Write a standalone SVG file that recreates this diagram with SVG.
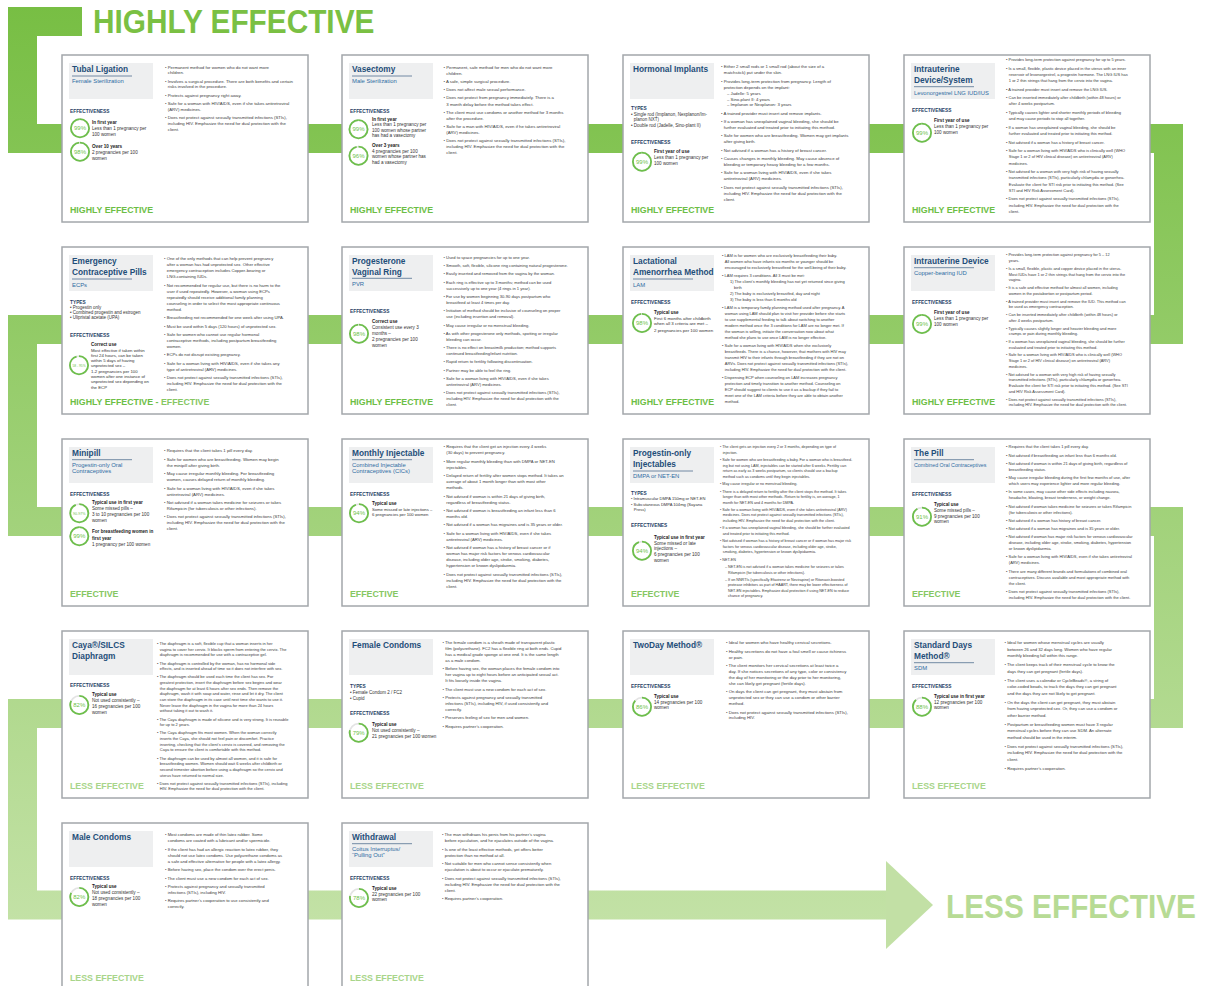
<svg xmlns="http://www.w3.org/2000/svg" width="1206" height="986" viewBox="0 0 1206 986">
<defs>
<linearGradient id="gr" gradientUnits="userSpaceOnUse" x1="0" y1="0" x2="0" y2="960">
<stop offset="0" stop-color="#77BE43"/>
<stop offset="1" stop-color="#C6E3AA"/>
</linearGradient>
<style>
text{font-family:"Liberation Sans",Arial,sans-serif}
.cb{fill:#fff;stroke:#A3A7AB;stroke-width:1.5}
.tb{fill:#EEEFF0}
.t{font-weight:bold;font-size:8.3px;fill:#1F4E79}
.s{font-size:5.9px;fill:#2F6CA3}
.ul{stroke:#51708F;stroke-width:0.8}
.l{font-weight:bold;font-size:4.8px;fill:#1F3F66}
.ty{font-size:4.5px;fill:#333}
.h{font-weight:bold;font-size:4.6px;fill:#222}
.e{font-size:4.6px;fill:#333}
.b{font-size:4.3px;fill:#3A3A3A}
.rg{fill:none;stroke:#E4E4E4;stroke-width:1.8}
.rf{fill:none;stroke:#6DBF4B;stroke-width:1.8}
.p{font-size:6px;fill:#6DBF4B;text-anchor:middle}
.f{font-weight:bold;font-size:8.8px}
.f1{fill:#6CBE45}
.f2{fill:#86C762}
.f3{fill:#A8D58A}
</style>
</defs>
<rect width="1206" height="986" fill="#fff"/>
<g id="connectors">
<path d="M82 21.5H22.5V138.5H1168.5V329.5H22.5V521.5H1168.5V713.5H22.5V905H886" fill="none" stroke="url(#gr)" stroke-width="29"/>
<polygon points="886,861 933,905 886,949" fill="#C2E0A5"/>
</g>
<g id="header-highly">
<text transform="translate(93,33.3) scale(1,1.094)" font-size="29.8" font-weight="bold" fill="#7AC043">HIGHLY EFFECTIVE</text>
</g>
<g id="footer-less">
<text transform="translate(946,918.3) scale(1,1.117)" font-size="29.8" font-weight="bold" fill="#B7DB95">LESS EFFECTIVE</text>
</g>

<g id="card-tubal-ligation" transform="translate(62,55)">
<rect class="cb" width="246" height="167"/>
<rect class="tb" x="7" y="8" width="84" height="36"/>
<text class="t" x="10" y="17">Tubal Ligation</text>
<line class="ul" x1="10" y1="21" x2="70" y2="21"/>
<text class="s" x="10" y="28">Female Sterilization</text>
<text class="l" x="8" y="57.7">EFFECTIVENESS</text>
<circle class="rg" cx="18" cy="73.3" r="9.1"/>
<circle class="rf" cx="18" cy="73.3" r="9.1" stroke-dasharray="56.6 60" transform="rotate(-90 18 73.3)"/>
<text class="p" x="18" y="75.4">99%</text>
<text x="30"><tspan class="h" x="30" y="69.3">In first year</tspan><tspan class="e" x="30" y="75.1">Less than 1 pregnancy per</tspan><tspan class="e" x="30" y="80.7">100 women</tspan></text>
<circle class="rg" cx="18" cy="96.7" r="9.1"/>
<circle class="rf" cx="18" cy="96.7" r="9.1" stroke-dasharray="56 60" transform="rotate(-90 18 96.7)"/>
<text class="p" x="18" y="98.8">98%</text>
<text x="30"><tspan class="h" x="30" y="93.3">Over 10 years</tspan><tspan class="e" x="30" y="99.1">2 pregnancies per 100</tspan><tspan class="e" x="30" y="104.7">women</tspan></text>
<text class="b"><tspan x="103" y="13.5">• Permanent method for women who do not want more</tspan><tspan x="105.8" y="19.3">children.</tspan><tspan x="103" y="27.6">• Involves a surgical procedure. There are both benefits and certain</tspan><tspan x="105.8" y="33.4">risks involved in the procedure.</tspan><tspan x="103" y="41.7">• Protects against pregnancy right away.</tspan><tspan x="103" y="50">• Safe for a woman with HIV/AIDS, even if she takes antiretroviral</tspan><tspan x="105.8" y="55.8">(ARV) medicines.</tspan><tspan x="103" y="64.1">• Does not protect against sexually transmitted infections (STIs),</tspan><tspan x="105.8" y="69.9">including HIV. Emphasize the need for dual protection with the</tspan><tspan x="105.8" y="75.7">client.</tspan></text>
<text class="f f1" x="8" y="158.3">HIGHLY EFFECTIVE</text>
</g>

<g id="card-vasectomy" transform="translate(342,55)">
<rect class="cb" width="246" height="167"/>
<rect class="tb" x="7" y="8" width="84" height="36"/>
<text class="t" x="10" y="17">Vasectomy</text>
<line class="ul" x1="10" y1="21" x2="70" y2="21"/>
<text class="s" x="10" y="28">Male Sterilization</text>
<text class="l" x="8" y="57.7">EFFECTIVENESS</text>
<circle class="rg" cx="16.5" cy="74.3" r="9.1"/>
<circle class="rf" cx="16.5" cy="74.3" r="9.1" stroke-dasharray="56.6 60" transform="rotate(-90 16.5 74.3)"/>
<text class="p" x="16.5" y="76.4">99%</text>
<text x="30"><tspan class="h" x="30" y="65.7">In first year</tspan><tspan class="e" x="30" y="71.2">Less than 1 pregnancy per</tspan><tspan class="e" x="30" y="76.8">100 women whose partner</tspan><tspan class="e" x="30" y="82.4">has had a vasectomy</tspan></text>
<circle class="rg" cx="16.5" cy="100.7" r="9.1"/>
<circle class="rf" cx="16.5" cy="100.7" r="9.1" stroke-dasharray="54.9 60" transform="rotate(-90 16.5 100.7)"/>
<text class="p" x="16.5" y="102.8">96%</text>
<text x="30"><tspan class="h" x="30" y="91.5">Over 3 years</tspan><tspan class="e" x="30" y="97.5">4 pregnancies per 100</tspan><tspan class="e" x="30" y="103.2">women whose partner has</tspan><tspan class="e" x="30" y="108.9">had a vasectomy</tspan></text>
<text class="b"><tspan x="101.5" y="14.3">• Permanent, safe method for men who do not want more</tspan><tspan x="104.3" y="20.4">children.</tspan><tspan x="101.5" y="28.4">• A safe, simple surgical procedure.</tspan><tspan x="101.5" y="36.4">• Does not affect male sexual performance.</tspan><tspan x="101.5" y="44.4">• Does not protect from pregnancy immediately. There is a</tspan><tspan x="104.3" y="50.5">3 month delay before the method takes effect.</tspan><tspan x="101.5" y="58.5">• The client must use condoms or another method for 3 months</tspan><tspan x="104.3" y="64.6">after the procedure.</tspan><tspan x="101.5" y="72.6">• Safe for a man with HIV/AIDS, even if he takes antiretroviral</tspan><tspan x="104.3" y="78.7">(ARV) medicines.</tspan><tspan x="101.5" y="86.7">• Does not protect against sexually transmitted infections (STIs),</tspan><tspan x="104.3" y="92.8">including HIV. Emphasize the need for dual protection with the</tspan><tspan x="104.3" y="98.9">client.</tspan></text>
<text class="f f1" x="8" y="158.3">HIGHLY EFFECTIVE</text>
</g>

<g id="card-hormonal-implants" transform="translate(623,55)">
<rect class="cb" width="246" height="167"/>
<rect class="tb" x="7" y="8" width="84" height="36"/>
<text class="t" x="10" y="17">Hormonal Implants</text>
<text class="l" x="8" y="55">TYPES</text>
<text class="ty"><tspan x="8" y="60.7">• Single rod (Implanon, Nexplanon/Im-</tspan><tspan x="10.8" y="66">planon NXT)</tspan><tspan x="8" y="71.7">• Double rod (Jadelle, Sino-plant II)</tspan></text>
<text class="l" x="8" y="89.3">EFFECTIVENESS</text>
<circle class="rg" cx="19" cy="106.7" r="9.1"/>
<circle class="rf" cx="19" cy="106.7" r="9.1" stroke-dasharray="56.6 60" transform="rotate(-90 19 106.7)"/>
<text class="p" x="19" y="108.8">99%</text>
<text x="31"><tspan class="h" x="31" y="98.3">First year of use</tspan><tspan class="e" x="31" y="104">Less than 1 pregnancy per</tspan><tspan class="e" x="31" y="109.8">100 women</tspan></text>
<text class="b"><tspan x="98" y="13.3">• Either 2 small rods or 1 small rod (about the size of a</tspan><tspan x="100.8" y="19.3">matchstick) put under the skin.</tspan><tspan x="98" y="27.6">• Provides long-term protection from pregnancy. Length of</tspan><tspan x="100.8" y="33.6">protection depends on the implant:</tspan><tspan x="104" y="39.5">– Jadelle: 5 years</tspan><tspan x="104" y="45.5">– Sino-plant II: 4 years</tspan><tspan x="104" y="51.4">– Implanon or Nexplanon: 3 years</tspan><tspan x="98" y="59.8">• A trained provider must insert and remove implants.</tspan><tspan x="98" y="68.1">• If a woman has unexplained vaginal bleeding, she should be</tspan><tspan x="100.8" y="74.1">further evaluated and treated prior to initiating this method.</tspan><tspan x="98" y="82.4">• Safe for women who are breastfeeding. Women may get implants</tspan><tspan x="100.8" y="88.4">after giving birth.</tspan><tspan x="98" y="96.7">• Not advised if a woman has a history of breast cancer.</tspan><tspan x="98" y="105.1">• Causes changes in monthly bleeding. May cause absence of</tspan><tspan x="100.8" y="111">bleeding or temporary heavy bleeding for a few months.</tspan><tspan x="98" y="119.4">• Safe for a woman living with HIV/AIDS, even if she takes</tspan><tspan x="100.8" y="125.3">antiretroviral (ARV) medicines.</tspan><tspan x="98" y="133.7">• Does not protect against sexually transmitted infections (STIs),</tspan><tspan x="100.8" y="139.6">including HIV. Emphasize the need for dual protection with the</tspan><tspan x="100.8" y="145.6">client.</tspan></text>
<text class="f f1" x="8" y="158.3">HIGHLY EFFECTIVE</text>
</g>

<g id="card-iud-lng" transform="translate(904,55)">
<rect class="cb" width="246" height="167"/>
<rect class="tb" x="7" y="8" width="84" height="36"/>
<text class="t"><tspan x="10" y="17.3">Intrauterine</tspan><tspan x="10" y="27.7">Device/System</tspan></text>
<line class="ul" x1="10" y1="31.7" x2="70" y2="31.7"/>
<text class="s" x="10" y="40" style="font-size:5.8px">Levonorgestrel LNG IUD/IUS</text>
<text class="l" x="8" y="56.7">EFFECTIVENESS</text>
<circle class="rg" cx="18" cy="77.7" r="9.1"/>
<circle class="rf" cx="18" cy="77.7" r="9.1" stroke-dasharray="56.6 60" transform="rotate(-90 18 77.7)"/>
<text class="p" x="18" y="79.8">99%</text>
<text x="30"><tspan class="h" x="30" y="67.3">First year of use</tspan><tspan class="e" x="30" y="73.3">Less than 1 pregnancy per</tspan><tspan class="e" x="30" y="79">100 women</tspan></text>
<text class="b" style="font-size:4px"><tspan x="102" y="6">• Provides long-term protection against pregnancy for up to 5 years.</tspan><tspan x="102" y="14.6">• Is a small, flexible, plastic device placed in the uterus with an inner</tspan><tspan x="104.8" y="20.8">reservoir of levonorgestrel, a progestin hormone. The LNG IUS has</tspan><tspan x="104.8" y="27">1 or 2 thin strings that hang from the cervix into the vagina.</tspan><tspan x="102" y="35.6">• A trained provider must insert and remove the LNG IUS.</tspan><tspan x="102" y="44.2">• Can be inserted immediately after childbirth (within 48 hours) or</tspan><tspan x="104.8" y="50.4">after 4 weeks postpartum.</tspan><tspan x="102" y="59">• Typically causes lighter and shorter monthly periods of bleeding</tspan><tspan x="104.8" y="65.2">and may cause periods to stop all together.</tspan><tspan x="102" y="73.8">• If a woman has unexplained vaginal bleeding, she should be</tspan><tspan x="104.8" y="80">further evaluated and treated prior to initiating this method.</tspan><tspan x="102" y="88.6">• Not advised if a woman has a history of breast cancer.</tspan><tspan x="102" y="97.2">• Safe for a woman living with HIV/AIDS who is clinically well (WHO</tspan><tspan x="104.8" y="103.4">Stage 1 or 2 of HIV clinical disease) on antiretroviral (ARV)</tspan><tspan x="104.8" y="109.6">medicines.</tspan><tspan x="102" y="118.2">• Not advised for a woman with very high risk of having sexually</tspan><tspan x="104.8" y="124.4">transmitted infections (STIs), particularly chlamydia or gonorrhea.</tspan><tspan x="104.8" y="130.6">Evaluate the client for STI risk prior to initiating this method. (See</tspan><tspan x="104.8" y="136.8">STI and HIV Risk Assessment Card).</tspan><tspan x="102" y="145.4">• Does not protect against sexually transmitted infections (STIs),</tspan><tspan x="104.8" y="151.6">including HIV. Emphasize the need for dual protection with the</tspan><tspan x="104.8" y="157.8">client.</tspan></text>
<text class="f f1" x="8" y="158.3">HIGHLY EFFECTIVE</text>
</g>

<g id="card-ecp" transform="translate(62,247)">
<rect class="cb" width="246" height="167"/>
<rect class="tb" x="7" y="8" width="84" height="36"/>
<text class="t"><tspan x="10" y="17.3">Emergency</tspan><tspan x="10" y="27.7">Contraceptive Pills</tspan></text>
<line class="ul" x1="10" y1="32" x2="70" y2="32"/>
<text class="s" x="10" y="40">ECPs</text>
<text class="l" x="8" y="56.7">TYPES</text>
<text class="ty"><tspan x="8" y="61.9">• Progestin only</tspan><tspan x="8" y="67.1">• Combined progestin and estrogen</tspan><tspan x="8" y="72.3">• Ulipristal acetate (UPA)</tspan></text>
<text class="l" x="8" y="90">EFFECTIVENESS</text>
<circle class="rg" cx="17" cy="118.3" r="9.1"/>
<circle class="rf" cx="17" cy="118.3" r="9.1" stroke-dasharray="54.3 60" transform="rotate(-90 17 118.3)"/>
<text class="p" x="17" y="119.5" style="font-size:3.3px">58 - 95%</text>
<text x="29"><tspan class="h" x="29" y="99">Correct use</tspan><tspan class="e" x="29" y="104.5" style="font-size:4.3px">Most effective if taken within</tspan><tspan class="e" x="29" y="109.8" style="font-size:4.3px">first 24 hours, can be taken</tspan><tspan class="e" x="29" y="115.1" style="font-size:4.3px">within 5 days of having</tspan><tspan class="e" x="29" y="120.4" style="font-size:4.3px">unprotected sex –</tspan><tspan class="e" x="29" y="125.7" style="font-size:4.3px">1-2 pregnancies per 100</tspan><tspan class="e" x="29" y="131" style="font-size:4.3px">women after one instance of</tspan><tspan class="e" x="29" y="136.3" style="font-size:4.3px">unprotected sex depending on</tspan><tspan class="e" x="29" y="141.6" style="font-size:4.3px">the ECP</tspan></text>
<text class="b" style="font-size:4.2px"><tspan x="102" y="13.3">• One of the only methods that can help prevent pregnancy</tspan><tspan x="104.8" y="19.3">after a woman has had unprotected sex. Other effective</tspan><tspan x="104.8" y="25.3">emergency contraception includes Copper-bearing or</tspan><tspan x="104.8" y="31.3">LNG-containing IUDs.</tspan><tspan x="102" y="39.7">• Not recommended for regular use, but there is no harm to the</tspan><tspan x="104.8" y="45.7">user if used repeatedly. However, a woman using ECPs</tspan><tspan x="104.8" y="51.7">repeatedly should receive additional family planning</tspan><tspan x="104.8" y="57.7">counseling in order to select the most appropriate continuous</tspan><tspan x="104.8" y="63.7">method.</tspan><tspan x="102" y="72.1">• Breastfeeding not recommended for one week after using UPA.</tspan><tspan x="102" y="80.5">• Must be used within 5 days (120 hours) of unprotected sex.</tspan><tspan x="102" y="88.9">• Safe for women who cannot use regular hormonal</tspan><tspan x="104.8" y="94.9">contraceptive methods, including postpartum breastfeeding</tspan><tspan x="104.8" y="100.9">women.</tspan><tspan x="102" y="109.3">• ECPs do not disrupt existing pregnancy.</tspan><tspan x="102" y="117.7">• Safe for a woman living with HIV/AIDS, even if she takes any</tspan><tspan x="104.8" y="123.7">type of antiretroviral (ARV) medicines.</tspan><tspan x="102" y="132.1">• Does not protect against sexually transmitted infections (STIs),</tspan><tspan x="104.8" y="138.1">including HIV. Emphasize the need for dual protection with the</tspan><tspan x="104.8" y="144.1">client.</tspan></text>
<text class="f f1" x="8" y="158.3">HIGHLY EFFECTIVE - <tspan class="f2">EFFECTIVE</tspan></text>
</g>

<g id="card-vaginal-ring" transform="translate(342,247)">
<rect class="cb" width="246" height="167"/>
<rect class="tb" x="7" y="8" width="84" height="36"/>
<text class="t"><tspan x="10" y="17.3">Progesterone</tspan><tspan x="10" y="27.7">Vaginal Ring</tspan></text>
<line class="ul" x1="10" y1="31.3" x2="70" y2="31.3"/>
<text class="s" x="10" y="39">PVR</text>
<text class="l" x="8" y="65.7">EFFECTIVENESS</text>
<circle class="rg" cx="17" cy="86.7" r="9.1"/>
<circle class="rf" cx="17" cy="86.7" r="9.1" stroke-dasharray="56 60" transform="rotate(-90 17 86.7)"/>
<text class="p" x="17" y="88.8">98%</text>
<text x="30"><tspan class="h" x="30" y="76">Correct use</tspan><tspan class="e" x="30" y="81.7">Consistent use every 3</tspan><tspan class="e" x="30" y="87.5">months –</tspan><tspan class="e" x="30" y="93.8">2 pregnancies per 100</tspan><tspan class="e" x="30" y="99.8">women</tspan></text>
<text class="b" style="font-size:4.1px"><tspan x="101.5" y="11.7">• Used to space pregnancies for up to one year.</tspan><tspan x="101.5" y="20">• Smooth, soft, flexible, silicone ring containing natural progesterone.</tspan><tspan x="101.5" y="28.4">• Easily inserted and removed from the vagina by the woman.</tspan><tspan x="101.5" y="36.7">• Each ring is effective up to 3 months; method can be used</tspan><tspan x="104.3" y="42.7">successively up to one year (4 rings in 1 year).</tspan><tspan x="101.5" y="51">• For use by women beginning 30-90 days postpartum who</tspan><tspan x="104.3" y="56.9">breastfeed at least 4 times per day.</tspan><tspan x="101.5" y="65.3">• Initiation of method should be inclusive of counseling on proper</tspan><tspan x="104.3" y="71.2">use (including insertion and removal).</tspan><tspan x="101.5" y="79.5">• May cause irregular or no menstrual bleeding.</tspan><tspan x="101.5" y="87.9">• As with other progesterone only methods, spotting or irregular</tspan><tspan x="104.3" y="93.8">bleeding can occur.</tspan><tspan x="101.5" y="102.2">• There is no effect on breastmilk production; method supports</tspan><tspan x="104.3" y="108.1">continued breastfeeding/infant nutrition.</tspan><tspan x="101.5" y="116.4">• Rapid return to fertility following discontinuation.</tspan><tspan x="101.5" y="124.8">• Partner may be able to feel the ring.</tspan><tspan x="101.5" y="133.1">• Safe for a woman living with HIV/AIDS, even if she takes</tspan><tspan x="104.3" y="139">antiretroviral (ARV) medicines.</tspan><tspan x="101.5" y="147.4">• Does not protect against sexually transmitted infections (STIs),</tspan><tspan x="104.3" y="153.3">including HIV. Emphasize the need for dual protection with the</tspan><tspan x="104.3" y="159.3">client.</tspan></text>
<text class="f f1" x="8" y="158.3">HIGHLY EFFECTIVE</text>
</g>

<g id="card-lam" transform="translate(623,247)">
<rect class="cb" width="246" height="167"/>
<rect class="tb" x="7" y="8" width="84" height="36"/>
<text class="t"><tspan x="10" y="17.3">Lactational</tspan><tspan x="10" y="27.7">Amenorrhea Method</tspan></text>
<line class="ul" x1="10" y1="32" x2="70" y2="32"/>
<text class="s" x="10" y="40">LAM</text>
<text class="l" x="8" y="56.7">EFFECTIVENESS</text>
<circle class="rg" cx="19" cy="76" r="9.1"/>
<circle class="rf" cx="19" cy="76" r="9.1" stroke-dasharray="56 60" transform="rotate(-90 19 76)"/>
<text class="p" x="19" y="78.1">98%</text>
<text x="31"><tspan class="h" x="31" y="66.7">Typical use</tspan><tspan class="e" x="31" y="72.5" style="font-size:4.4px">First 6 months after childbirth</tspan><tspan class="e" x="31" y="78.2" style="font-size:4.4px">when all 3 criteria are met –</tspan><tspan class="e" x="31" y="84.5" style="font-size:4.4px">2 pregnancies per 100 women</tspan></text>
<text class="b" style="font-size:4px"><tspan x="99" y="10">• LAM is for women who are exclusively breastfeeding their baby.</tspan><tspan x="101.8" y="16">All women who have infants six months or younger should be</tspan><tspan x="101.8" y="22">encouraged to exclusively breastfeed for the well-being of their baby.</tspan><tspan x="99" y="30">• LAM requires 3 conditions. All 3 must be met:</tspan><tspan x="107" y="36">1) The client’s monthly bleeding has not yet returned since giving</tspan><tspan x="111" y="42">birth</tspan><tspan x="107" y="48">2) The baby is exclusively breastfed, day and night</tspan><tspan x="107" y="54">3) The baby is less than 6 months old</tspan><tspan x="99" y="62">• LAM is a temporary family planning method used after pregnancy. A</tspan><tspan x="101.8" y="68">woman using LAM should plan to visit her provider before she starts</tspan><tspan x="101.8" y="74">to use supplemental feeding to talk about switching to another</tspan><tspan x="101.8" y="80">modern method once the 3 conditions for LAM are no longer met. If</tspan><tspan x="101.8" y="86">the woman is willing, initiate the conversation now about what</tspan><tspan x="101.8" y="92">method she plans to use once LAM is no longer effective.</tspan><tspan x="99" y="100">• Safe for a woman living with HIV/AIDS when she exclusively</tspan><tspan x="101.8" y="106">breastfeeds. There is a chance, however, that mothers with HIV may</tspan><tspan x="101.8" y="112">transmit HIV to their infants through breastfeeding if they are not on</tspan><tspan x="101.8" y="118">ARVs. Does not protect against sexually transmitted infections (STIs),</tspan><tspan x="101.8" y="124">including HIV. Emphasize the need for dual protection with the client.</tspan><tspan x="99" y="132">• Dispensing ECP when counseling on LAM increases pregnancy</tspan><tspan x="101.8" y="138">protection and timely transition to another method. Counseling on</tspan><tspan x="101.8" y="144">ECP should suggest to clients to use it as a backup if they fail to</tspan><tspan x="101.8" y="150">meet one of the LAM criteria before they are able to obtain another</tspan><tspan x="101.8" y="156">method.</tspan></text>
<text class="f f1" x="8" y="158.3">HIGHLY EFFECTIVE</text>
</g>

<g id="card-iud-copper" transform="translate(904,247)">
<rect class="cb" width="246" height="167"/>
<rect class="tb" x="7" y="8" width="84" height="36"/>
<text class="t" x="10" y="17.3">Intrauterine Device</text>
<line class="ul" x1="10" y1="20.7" x2="70" y2="20.7"/>
<text class="s" x="10" y="27.7">Copper-bearing IUD</text>
<text class="l" x="8" y="56.7">EFFECTIVENESS</text>
<circle class="rg" cx="18" cy="77" r="9.1"/>
<circle class="rf" cx="18" cy="77" r="9.1" stroke-dasharray="56.6 60" transform="rotate(-90 18 77)"/>
<text class="p" x="18" y="79.1">99%</text>
<text x="30"><tspan class="h" x="30" y="67.3">First year of use</tspan><tspan class="e" x="30" y="73.3">Less than 1 pregnancy per</tspan><tspan class="e" x="30" y="79.3">100 women</tspan></text>
<text class="b" style="font-size:3.9px"><tspan x="102" y="9.3">• Provides long-term protection against pregnancy for 5 – 12</tspan><tspan x="104.8" y="15">years.</tspan><tspan x="102" y="22.8">• Is a small, flexible, plastic and copper device placed in the uterus.</tspan><tspan x="104.8" y="28.5">Most IUDs have 1 or 2 thin strings that hang from the cervix into the</tspan><tspan x="104.8" y="34.3">vagina.</tspan><tspan x="102" y="42">• It is a safe and effective method for almost all women, including</tspan><tspan x="104.8" y="47.8">women in the postabortion or postpartum period.</tspan><tspan x="102" y="55.5">• A trained provider must insert and remove the IUD. This method can</tspan><tspan x="104.8" y="61.2">be used as emergency contraception.</tspan><tspan x="102" y="69">• Can be inserted immediately after childbirth (within 48 hours) or</tspan><tspan x="104.8" y="74.7">after 4 weeks postpartum.</tspan><tspan x="102" y="82.5">• Typically causes slightly longer and heavier bleeding and more</tspan><tspan x="104.8" y="88.2">cramps or pain during monthly bleeding.</tspan><tspan x="102" y="96">• If a woman has unexplained vaginal bleeding, she should be further</tspan><tspan x="104.8" y="101.7">evaluated and treated prior to initiating this method.</tspan><tspan x="102" y="109.4">• Safe for a woman living with HIV/AIDS who is clinically well (WHO</tspan><tspan x="104.8" y="115.2">Stage 1 or 2 of HIV clinical disease) on antiretroviral (ARV)</tspan><tspan x="104.8" y="120.9">medicines.</tspan><tspan x="102" y="128.7">• Not advised for a woman with very high risk of having sexually</tspan><tspan x="104.8" y="134.4">transmitted infections (STIs), particularly chlamydia or gonorrhea.</tspan><tspan x="104.8" y="140.1">Evaluate the client for STI risk prior to initiating this method. (See STI</tspan><tspan x="104.8" y="145.9">and HIV Risk Assessment Card).</tspan><tspan x="102" y="153.6">• Does not protect against sexually transmitted infections (STIs),</tspan><tspan x="104.8" y="159.4">including HIV. Emphasize the need for dual protection with the client.</tspan></text>
<text class="f f1" x="8" y="158.3">HIGHLY EFFECTIVE</text>
</g>

<g id="card-minipill" transform="translate(62,439)">
<rect class="cb" width="246" height="167"/>
<rect class="tb" x="7" y="8" width="84" height="36"/>
<text class="t" x="10" y="17.3">Minipill</text>
<line class="ul" x1="10" y1="20.7" x2="70" y2="20.7"/>
<text class="s"><tspan x="10" y="27.7">Progestin-only Oral</tspan><tspan x="10" y="34.3">Contraceptives</tspan></text>
<text class="l" x="8" y="56.7">EFFECTIVENESS</text>
<circle class="rg" cx="17.3" cy="74.3" r="9.1"/>
<circle class="rf" cx="17.3" cy="74.3" r="9.1" stroke-dasharray="53.2 60" transform="rotate(-90 17.3 74.3)"/>
<text class="p" x="17.3" y="75.6" style="font-size:3.6px">90-97%</text>
<text x="30"><tspan class="h" x="30" y="65.3">Typical use in first year</tspan><tspan class="e" x="30" y="71">Some missed pills –</tspan><tspan class="e" x="30" y="77.2">3 to 10 pregnancies per 100</tspan><tspan class="e" x="30" y="83.3">women</tspan></text>
<circle class="rg" cx="17.3" cy="97.3" r="9.1"/>
<circle class="rf" cx="17.3" cy="97.3" r="9.1" stroke-dasharray="56.6 60" transform="rotate(-90 17.3 97.3)"/>
<text class="p" x="17.3" y="99.4">99%</text>
<text x="30"><tspan class="h" x="30" y="94.3">For breastfeeding women in</tspan><tspan class="h" x="30" y="100.6">first year</tspan><tspan class="e" x="30" y="107">1 pregnancy per 100 women</tspan></text>
<text class="b"><tspan x="102" y="13.3">• Requires that the client takes 1 pill every day.</tspan><tspan x="102" y="21.7">• Safe for women who are breastfeeding. Women may begin</tspan><tspan x="104.8" y="27.7">the minipill after giving birth.</tspan><tspan x="102" y="36.1">• May cause irregular monthly bleeding. For breastfeeding</tspan><tspan x="104.8" y="42.1">women, causes delayed return of monthly bleeding.</tspan><tspan x="102" y="50.5">• Safe for a woman living with HIV/AIDS, even if she takes</tspan><tspan x="104.8" y="56.5">antiretroviral (ARV) medicines.</tspan><tspan x="102" y="64.9">• Not advised if a woman takes medicine for seizures or takes</tspan><tspan x="104.8" y="70.9">Rifampicin (for tuberculosis or other infections).</tspan><tspan x="102" y="79.3">• Does not protect against sexually transmitted infections (STIs),</tspan><tspan x="104.8" y="85.3">including HIV. Emphasize the need for dual protection with the</tspan><tspan x="104.8" y="91.3">client.</tspan></text>
<text class="f f2" x="8" y="158.3">EFFECTIVE</text>
</g>

<g id="card-monthly-injectable" transform="translate(342,439)">
<rect class="cb" width="246" height="167"/>
<rect class="tb" x="7" y="8" width="84" height="36"/>
<text class="t" x="10" y="17.3">Monthly Injectable</text>
<line class="ul" x1="10" y1="20.7" x2="70" y2="20.7"/>
<text class="s"><tspan x="10" y="27.7">Combined Injectable</tspan><tspan x="10" y="34.3">Contraceptives (CICs)</tspan></text>
<text class="l" x="8" y="56.7">EFFECTIVENESS</text>
<circle class="rg" cx="17" cy="74.3" r="9.1"/>
<circle class="rf" cx="17" cy="74.3" r="9.1" stroke-dasharray="53.7 60" transform="rotate(-90 17 74.3)"/>
<text class="p" x="17" y="76.4">94%</text>
<text x="30"><tspan class="h" x="30" y="66">Typical use</tspan><tspan class="e" x="30" y="71.7" style="font-size:4.2px">Some missed or late injections –</tspan><tspan class="e" x="30" y="77.3" style="font-size:4.2px">6 pregnancies per 100 women</tspan></text>
<text class="b" style="font-size:4.2px"><tspan x="101.5" y="9.3">• Requires that the client get an injection every 4 weeks</tspan><tspan x="104.3" y="15.3">(30 days) to prevent pregnancy.</tspan><tspan x="101.5" y="23.7">• More regular monthly bleeding than with DMPA or NET-EN</tspan><tspan x="104.3" y="29.7">injectables.</tspan><tspan x="101.5" y="38.1">• Delayed return of fertility after women stops method. It takes an</tspan><tspan x="104.3" y="44.1">average of about 1 month longer than with most other</tspan><tspan x="104.3" y="50.1">methods.</tspan><tspan x="101.5" y="58.5">• Not advised if woman is within 21 days of giving birth,</tspan><tspan x="104.3" y="64.5">regardless of breastfeeding status.</tspan><tspan x="101.5" y="72.9">• Not advised if woman is breastfeeding an infant less than 6</tspan><tspan x="104.3" y="78.9">months old.</tspan><tspan x="101.5" y="87.3">• Not advised if a woman has migraines and is 35 years or older.</tspan><tspan x="101.5" y="95.7">• Safe for a woman living with HIV/AIDS, even if she takes</tspan><tspan x="104.3" y="101.7">antiretroviral (ARV) medicines.</tspan><tspan x="101.5" y="110.1">• Not advised if woman has a history of breast cancer or if</tspan><tspan x="104.3" y="116.1">woman has major risk factors for venous cardiovascular</tspan><tspan x="104.3" y="122.1">disease, including older age, stroke, smoking, diabetes,</tspan><tspan x="104.3" y="128.1">hypertension or known dyslipidaemia.</tspan><tspan x="101.5" y="136.5">• Does not protect against sexually transmitted infections (STIs),</tspan><tspan x="104.3" y="142.5">including HIV. Emphasize the need for dual protection with the</tspan><tspan x="104.3" y="148.5">client.</tspan></text>
<text class="f f2" x="8" y="158.3">EFFECTIVE</text>
</g>

<g id="card-progestin-injectables" transform="translate(623,439)">
<rect class="cb" width="246" height="167"/>
<rect class="tb" x="7" y="8" width="84" height="36"/>
<text class="t"><tspan x="10" y="17.3">Progestin-only</tspan><tspan x="10" y="27.7">Injectables</tspan></text>
<line class="ul" x1="10" y1="32" x2="70" y2="32"/>
<text class="s" x="10" y="39.3">DMPA or NET-EN</text>
<text class="l" x="8" y="56">TYPES</text>
<text class="ty" style="font-size:4.1px"><tspan x="8" y="61">• Intramuscular DMPA 150mg or NET-EN</tspan><tspan x="8" y="66.7">• Subcutaneous DMPA 104mg (Sayana</tspan><tspan x="10.8" y="72.3">Press)</tspan></text>
<text class="l" x="8" y="88.3">EFFECTIVENES</text>
<circle class="rg" cx="19" cy="111.7" r="9.1"/>
<circle class="rf" cx="19" cy="111.7" r="9.1" stroke-dasharray="53.7 60" transform="rotate(-90 19 111.7)"/>
<text class="p" x="19" y="113.8">94%</text>
<text x="31"><tspan class="h" x="31" y="100">Typical use in first year</tspan><tspan class="e" x="31" y="105.7">Some missed or late</tspan><tspan class="e" x="31" y="111">injections –</tspan><tspan class="e" x="31" y="116.7">6 pregnancies per 100</tspan><tspan class="e" x="31" y="122.5">women</tspan></text>
<text class="b" style="font-size:3.7px"><tspan x="97" y="9.3">• The client gets an injection every 2 or 3 months, depending on type of</tspan><tspan x="99.8" y="14.8">injection.</tspan><tspan x="97" y="22.2">• Safe for women who are breastfeeding a baby. For a woman who is breastfeed-</tspan><tspan x="99.8" y="27.7">ing but not using LAM, injectables can be started after 6 weeks. Fertility can</tspan><tspan x="99.8" y="33.1">return as early as 3 weeks postpartum, so clients should use a backup</tspan><tspan x="99.8" y="38.6">method such as condoms until they begin injectables.</tspan><tspan x="97" y="46.1">• May cause irregular or no menstrual bleeding.</tspan><tspan x="97" y="53.5">• There is a delayed return to fertility after the client stops the method. It takes</tspan><tspan x="99.8" y="59">longer than with most other methods. Return to fertility is, on average, 1</tspan><tspan x="99.8" y="64.5">month for NET-EN and 4 months for DMPA.</tspan><tspan x="97" y="71.9">• Safe for a woman living with HIV/AIDS, even if she takes antiretroviral (ARV)</tspan><tspan x="99.8" y="77.4">medicines. Does not protect against sexually transmitted infections (STIs),</tspan><tspan x="99.8" y="82.8">including HIV. Emphasize the need for dual protection with the client.</tspan><tspan x="97" y="90.3">• If a woman has unexplained vaginal bleeding, she should be further evaluated</tspan><tspan x="99.8" y="95.8">and treated prior to initiating this method.</tspan><tspan x="97" y="103.2">• Not advised if woman has a history of breast cancer or if woman has major risk</tspan><tspan x="99.8" y="108.7">factors for venous cardiovascular disease, including older age, stroke,</tspan><tspan x="99.8" y="114.1">smoking, diabetes, hypertension or known dyslipidaemia.</tspan><tspan x="97" y="121.6">• NET-EN</tspan><tspan x="102" y="129">– NET-EN is not advised if a woman takes medicine for seizures or takes</tspan><tspan x="105" y="134.5">Rifampicin (for tuberculosis or other infections).</tspan><tspan x="102" y="142">– If on NNRTIs (specifically Efavirenz or Nevirapine) or Ritonavir-boosted</tspan><tspan x="105" y="147.4">protease inhibitors as part of HAART, there may be lower effectiveness of</tspan><tspan x="105" y="152.9">NET-EN injectables. Emphasize dual protection if using NET-EN to reduce</tspan><tspan x="105" y="158.4">chance of pregnancy.</tspan></text>
<text class="f f2" x="8" y="158.3">EFFECTIVE</text>
</g>

<g id="card-the-pill" transform="translate(904,439)">
<rect class="cb" width="246" height="167"/>
<rect class="tb" x="7" y="8" width="84" height="36"/>
<text class="t" x="10" y="17.3">The Pill</text>
<line class="ul" x1="10" y1="20.7" x2="70" y2="20.7"/>
<text class="s" x="10" y="27.7" style="font-size:5.3px">Combined Oral Contraceptives</text>
<text class="l" x="8" y="56.7">EFFECTIVENESS</text>
<circle class="rg" cx="18" cy="77.7" r="9.1"/>
<circle class="rf" cx="18" cy="77.7" r="9.1" stroke-dasharray="52 60" transform="rotate(-90 18 77.7)"/>
<text class="p" x="18" y="79.8">91%</text>
<text x="30"><tspan class="h" x="30" y="67.3">Typical use</tspan><tspan class="e" x="30" y="73.3">Some missed pills –</tspan><tspan class="e" x="30" y="78.8">9 pregnancies per 100</tspan><tspan class="e" x="30" y="84.3">women</tspan></text>
<text class="b" style="font-size:4px"><tspan x="102" y="9.3">• Requires that the client takes 1 pill every day.</tspan><tspan x="102" y="17.5">• Not advised if breastfeeding an infant less than 6 months old.</tspan><tspan x="102" y="25.7">• Not advised if woman is within 21 days of giving birth, regardless of</tspan><tspan x="104.8" y="31.8">breastfeeding status.</tspan><tspan x="102" y="40">• May cause irregular bleeding during the first few months of use, after</tspan><tspan x="104.8" y="46">which users may experience lighter and more regular bleeding.</tspan><tspan x="102" y="54.2">• In some cases, may cause other side effects including nausea,</tspan><tspan x="104.8" y="60.2">headache, bloating, breast tenderness, or weight change.</tspan><tspan x="102" y="68.5">• Not advised if woman takes medicine for seizures or takes Rifampicin</tspan><tspan x="104.8" y="74.5">(for tuberculosis or other infections).</tspan><tspan x="102" y="82.7">• Not advised if a woman has history of breast cancer.</tspan><tspan x="102" y="90.9">• Not advised if a woman has migraines and is 35 years or older.</tspan><tspan x="102" y="99.1">• Not advised if woman has major risk factors for venous cardiovascular</tspan><tspan x="104.8" y="105.2">disease, including older age, stroke, smoking, diabetes, hypertension</tspan><tspan x="104.8" y="111.2">or known dyslipidaemia.</tspan><tspan x="102" y="119.4">• Safe for a woman living with HIV/AIDS, even if she takes antiretroviral</tspan><tspan x="104.8" y="125.4">(ARV) medicines.</tspan><tspan x="102" y="133.7">• There are many different brands and formulations of combined oral</tspan><tspan x="104.8" y="139.7">contraceptives. Discuss available and most appropriate method with</tspan><tspan x="104.8" y="145.7">the client.</tspan><tspan x="102" y="153.9">• Does not protect against sexually transmitted infections (STIs),</tspan><tspan x="104.8" y="160">including HIV. Emphasize the need for dual protection with the client.</tspan></text>
<text class="f f2" x="8" y="158.3">EFFECTIVE</text>
</g>

<g id="card-diaphragm" transform="translate(62,631)">
<rect class="cb" width="246" height="167"/>
<rect class="tb" x="7" y="8" width="84" height="36"/>
<text class="t"><tspan x="10" y="17.3">Caya®/SILCS</tspan><tspan x="10" y="27.7">Diaphragm</tspan></text>
<text class="l" x="8" y="56">EFFECTIVENESS</text>
<circle class="rg" cx="17.3" cy="74" r="9.1"/>
<circle class="rf" cx="17.3" cy="74" r="9.1" stroke-dasharray="46.9 60" transform="rotate(-90 17.3 74)"/>
<text class="p" x="17.3" y="76.1">82%</text>
<text x="30"><tspan class="h" x="30" y="65.3">Typical use</tspan><tspan class="e" x="30" y="71">Not used consistently –</tspan><tspan class="e" x="30" y="76.8">16 pregnancies per 100</tspan><tspan class="e" x="30" y="83.3">women</tspan></text>
<text class="b" style="font-size:4px"><tspan x="95" y="14">• The diaphragm is a soft, flexible cup that a woman inserts in her</tspan><tspan x="97.8" y="19.7">vagina to cover her cervix. It blocks sperm from entering the cervix. The</tspan><tspan x="97.8" y="25.4">diaphragm is recommended for use with a contraceptive gel.</tspan><tspan x="95" y="33.5">• The diaphragm is controlled by the woman, has no hormonal side</tspan><tspan x="97.8" y="39.2">effects, and is inserted ahead of time so it does not interfere with sex.</tspan><tspan x="95" y="47.3">• The diaphragm should be used each time the client has sex. For</tspan><tspan x="97.8" y="53">greatest protection, insert the diaphragm before sex begins and wear</tspan><tspan x="97.8" y="58.7">the diaphragm for at least 6 hours after sex ends. Then remove the</tspan><tspan x="97.8" y="64.3">diaphragm, wash it with soap and water, rinse and let it dry. The client</tspan><tspan x="97.8" y="70">can store the diaphragm in its case until next time she wants to use it.</tspan><tspan x="97.8" y="75.7">Never leave the diaphragm in the vagina for more than 24 hours</tspan><tspan x="97.8" y="81.4">without taking it out to wash it.</tspan><tspan x="95" y="89.5">• The Caya diaphragm is made of silicone and is very strong. It is reusable</tspan><tspan x="97.8" y="95.2">for up to 2 years.</tspan><tspan x="95" y="103.3">• The Caya diaphragm fits most women. When the woman correctly</tspan><tspan x="97.8" y="109">inserts the Caya, she should not feel pain or discomfort. Practice</tspan><tspan x="97.8" y="114.7">inserting, checking that the client’s cervix is covered, and removing the</tspan><tspan x="97.8" y="120.4">Caya to ensure the client is comfortable with this method.</tspan><tspan x="95" y="128.5">• The diaphragm can be used by almost all women, and it is safe for</tspan><tspan x="97.8" y="134.2">breastfeeding women. Women should wait 6 weeks after childbirth or</tspan><tspan x="97.8" y="139.9">second trimester abortion before using a diaphragm so the cervix and</tspan><tspan x="97.8" y="145.5">uterus have returned to normal size.</tspan><tspan x="95" y="153.6">• Does not protect against sexually transmitted infections (STIs), including</tspan><tspan x="97.8" y="159.3">HIV. Emphasize the need for dual protection with the client.</tspan></text>
<text class="f f3" x="8" y="158.3">LESS EFFECTIVE</text>
</g>

<g id="card-female-condoms" transform="translate(342,631)">
<rect class="cb" width="246" height="167"/>
<rect class="tb" x="7" y="8" width="84" height="36"/>
<text class="t" x="10" y="17.3">Female Condoms</text>
<text class="l" x="8" y="56.7">TYPES</text>
<text class="ty"><tspan x="8" y="62.7">• Female Condom 2 / FC2</tspan><tspan x="8" y="69.3">• Cupid</tspan></text>
<text class="l" x="8" y="84.3">EFFECTIVENESS</text>
<circle class="rg" cx="16.7" cy="101.7" r="9.1"/>
<circle class="rf" cx="16.7" cy="101.7" r="9.1" stroke-dasharray="45.2 60" transform="rotate(-90 16.7 101.7)"/>
<text class="p" x="16.7" y="103.8">79%</text>
<text x="30"><tspan class="h" x="30" y="95">Typical use</tspan><tspan class="e" x="30" y="101">Not used consistently –</tspan><tspan class="e" x="30" y="107.3">21 pregnancies per 100 women</tspan></text>
<text class="b" style="font-size:4.2px"><tspan x="100.5" y="12.7">• The female condom is a sheath made of transparent plastic</tspan><tspan x="103.3" y="18.7">film (polyurethane). FC2 has a flexible ring at both ends. Cupid</tspan><tspan x="103.3" y="24.7">has a medical grade sponge at one end. It is the same length</tspan><tspan x="103.3" y="30.7">as a male condom.</tspan><tspan x="100.5" y="39.1">• Before having sex, the woman places the female condom into</tspan><tspan x="103.3" y="45.1">her vagina up to eight hours before an anticipated sexual act.</tspan><tspan x="103.3" y="51.1">It fits loosely inside the vagina.</tspan><tspan x="100.5" y="59.5">• The client must use a new condom for each act of sex.</tspan><tspan x="100.5" y="67.9">• Protects against pregnancy and sexually transmitted</tspan><tspan x="103.3" y="73.9">infections (STIs), including HIV, if used consistently and</tspan><tspan x="103.3" y="79.9">correctly.</tspan><tspan x="100.5" y="88.3">• Preserves feeling of sex for men and women.</tspan><tspan x="100.5" y="96.7">• Requires partner’s cooperation.</tspan></text>
<text class="f f3" x="8" y="158.3">LESS EFFECTIVE</text>
</g>

<g id="card-twoday" transform="translate(623,631)">
<rect class="cb" width="246" height="167"/>
<rect class="tb" x="7" y="8" width="84" height="36"/>
<text class="t" x="10" y="17.3">TwoDay Method®</text>
<text class="l" x="8" y="56.7">EFFECTIVENESS</text>
<circle class="rg" cx="19" cy="75.7" r="9.1"/>
<circle class="rf" cx="19" cy="75.7" r="9.1" stroke-dasharray="49.2 60" transform="rotate(-90 19 75.7)"/>
<text class="p" x="19" y="77.8">86%</text>
<text x="31"><tspan class="h" x="31" y="66.7">Typical use</tspan><tspan class="e" x="31" y="72.7">14 pregnancies per 100</tspan><tspan class="e" x="31" y="78.3">women</tspan></text>
<text class="b"><tspan x="103" y="13.3">• Ideal for women who have healthy cervical secretions.</tspan><tspan x="103" y="21.7">• Healthy secretions do not have a foul smell or cause itchiness</tspan><tspan x="105.8" y="27.6">or pain.</tspan><tspan x="103" y="36">• The client monitors her cervical secretions at least twice a</tspan><tspan x="105.8" y="41.9">day. If she notices secretions of any type, color or consistency</tspan><tspan x="105.8" y="47.9">the day of her monitoring or the day prior to her monitoring,</tspan><tspan x="105.8" y="53.8">she can likely get pregnant (fertile days).</tspan><tspan x="103" y="62.2">• On days the client can get pregnant, they must abstain from</tspan><tspan x="105.8" y="68.1">unprotected sex or they can use a condom or other barrier</tspan><tspan x="105.8" y="74.1">method.</tspan><tspan x="103" y="82.5">• Does not protect against sexually transmitted infections (STIs),</tspan><tspan x="105.8" y="88.4">including HIV.</tspan></text>
<text class="f f3" x="8" y="158.3">LESS EFFECTIVE</text>
</g>

<g id="card-standard-days" transform="translate(904,631)">
<rect class="cb" width="246" height="167"/>
<rect class="tb" x="7" y="8" width="84" height="36"/>
<text class="t"><tspan x="10" y="17.3">Standard Days</tspan><tspan x="10" y="27.7">Method®</tspan></text>
<line class="ul" x1="10" y1="31.7" x2="70" y2="31.7"/>
<text class="s" x="10" y="39.3">SDM</text>
<text class="l" x="8" y="56.7">EFFECTIVENESS</text>
<circle class="rg" cx="18" cy="75.7" r="9.1"/>
<circle class="rf" cx="18" cy="75.7" r="9.1" stroke-dasharray="50.3 60" transform="rotate(-90 18 75.7)"/>
<text class="p" x="18" y="77.8">88%</text>
<text x="30"><tspan class="h" x="30" y="66.7">Typical use in first year</tspan><tspan class="e" x="30" y="72.7">12 pregnancies per 100</tspan><tspan class="e" x="30" y="78.3">women</tspan></text>
<text class="b" style="font-size:4.2px"><tspan x="100.5" y="13.3">• Ideal for women whose menstrual cycles are usually</tspan><tspan x="103.3" y="19.5">between 26 and 32 days long. Women who have regular</tspan><tspan x="103.3" y="25.7">monthly bleeding fall within this range.</tspan><tspan x="100.5" y="35.3">• The client keeps track of their menstrual cycle to know the</tspan><tspan x="103.3" y="41.5">days they can get pregnant (fertile days).</tspan><tspan x="100.5" y="51.1">• The client uses a calendar or CycleBeads®, a string of</tspan><tspan x="103.3" y="57.3">color-coded beads, to track the days they can get pregnant</tspan><tspan x="103.3" y="63.5">and the days they are not likely to get pregnant.</tspan><tspan x="100.5" y="73.1">• On the days the client can get pregnant, they must abstain</tspan><tspan x="103.3" y="79.3">from having unprotected sex. Or, they can use a condom or</tspan><tspan x="103.3" y="85.5">other barrier method.</tspan><tspan x="100.5" y="95.1">• Postpartum or breastfeeding women must have 3 regular</tspan><tspan x="103.3" y="101.3">menstrual cycles before they can use SDM. An alternate</tspan><tspan x="103.3" y="107.5">method should be used in the interim.</tspan><tspan x="100.5" y="117.1">• Does not protect against sexually transmitted infections (STIs),</tspan><tspan x="103.3" y="123.3">including HIV. Emphasize the need for dual protection with the</tspan><tspan x="103.3" y="129.5">client.</tspan><tspan x="100.5" y="139.1">• Requires partner’s cooperation.</tspan></text>
<text class="f f3" x="8" y="158.3">LESS EFFECTIVE</text>
</g>

<g id="card-male-condoms" transform="translate(62,823)">
<rect class="cb" width="246" height="167"/>
<rect class="tb" x="7" y="8" width="84" height="36"/>
<text class="t" x="10" y="17.3">Male Condoms</text>
<text class="l" x="8" y="56.7">EFFECTIVENESS</text>
<circle class="rg" cx="17.3" cy="74" r="9.1"/>
<circle class="rf" cx="17.3" cy="74" r="9.1" stroke-dasharray="46.9 60" transform="rotate(-90 17.3 74)"/>
<text class="p" x="17.3" y="76.1">82%</text>
<text x="30"><tspan class="h" x="30" y="65">Typical use</tspan><tspan class="e" x="30" y="70.7">Not used consistently –</tspan><tspan class="e" x="30" y="76.7">18 pregnancies per 100</tspan><tspan class="e" x="30" y="82.7">women</tspan></text>
<text class="b" style="font-size:4.2px"><tspan x="103" y="13.3">• Most condoms are made of thin latex rubber. Some</tspan><tspan x="105.8" y="19.3">condoms are coated with a lubricant and/or spermicide.</tspan><tspan x="103" y="27.7">• If the client has had an allergic reaction to latex rubber, they</tspan><tspan x="105.8" y="33.7">should not use latex condoms. Use polyurethane condoms as</tspan><tspan x="105.8" y="39.7">a safe and effective alternative for people with a latex allergy.</tspan><tspan x="103" y="48.1">• Before having sex, place the condom over the erect penis.</tspan><tspan x="103" y="56.5">• The client must use a new condom for each act of sex.</tspan><tspan x="103" y="64.9">• Protects against pregnancy and sexually transmitted</tspan><tspan x="105.8" y="70.9">infections (STIs), including HIV.</tspan><tspan x="103" y="79.3">• Requires partner’s cooperation to use consistently and</tspan><tspan x="105.8" y="85.3">correctly.</tspan></text>
<text class="f f3" x="8" y="158.3">LESS EFFECTIVE</text>
</g>

<g id="card-withdrawal" transform="translate(342,823)">
<rect class="cb" width="246" height="167"/>
<rect class="tb" x="7" y="8" width="84" height="36"/>
<text class="t" x="10" y="17.3">Withdrawal</text>
<line class="ul" x1="10" y1="20.7" x2="70" y2="20.7"/>
<text class="s"><tspan x="10" y="27.7">Coitus Interruptus/</tspan><tspan x="10" y="34.3">“Pulling Out”</tspan></text>
<text class="l" x="8" y="56.7">EFFECTIVENESS</text>
<circle class="rg" cx="17" cy="75" r="9.1"/>
<circle class="rf" cx="17" cy="75" r="9.1" stroke-dasharray="44.6 60" transform="rotate(-90 17 75)"/>
<text class="p" x="17" y="77.1">78%</text>
<text x="30"><tspan class="h" x="30" y="66.7">Typical use</tspan><tspan class="e" x="30" y="72.7">22 pregnancies per 100</tspan><tspan class="e" x="30" y="78.3">women</tspan></text>
<text class="b" style="font-size:4.2px"><tspan x="100" y="13.3">• The man withdraws his penis from his partner’s vagina</tspan><tspan x="102.8" y="19.3">before ejaculation, and he ejaculates outside of the vagina.</tspan><tspan x="100" y="27.7">• Is one of the least effective methods, yet offers better</tspan><tspan x="102.8" y="33.7">protection than no method at all.</tspan><tspan x="100" y="42.1">• Not suitable for men who cannot sense consistently when</tspan><tspan x="102.8" y="48.1">ejaculation is about to occur or ejaculate prematurely.</tspan><tspan x="100" y="56.5">• Does not protect against sexually transmitted infections (STIs),</tspan><tspan x="102.8" y="62.5">including HIV. Emphasize the need for dual protection with the</tspan><tspan x="102.8" y="68.5">client.</tspan><tspan x="100" y="76.9">• Requires partner’s cooperation.</tspan></text>
<text class="f f3" x="8" y="158.3">LESS EFFECTIVE</text>
</g>
</svg>
